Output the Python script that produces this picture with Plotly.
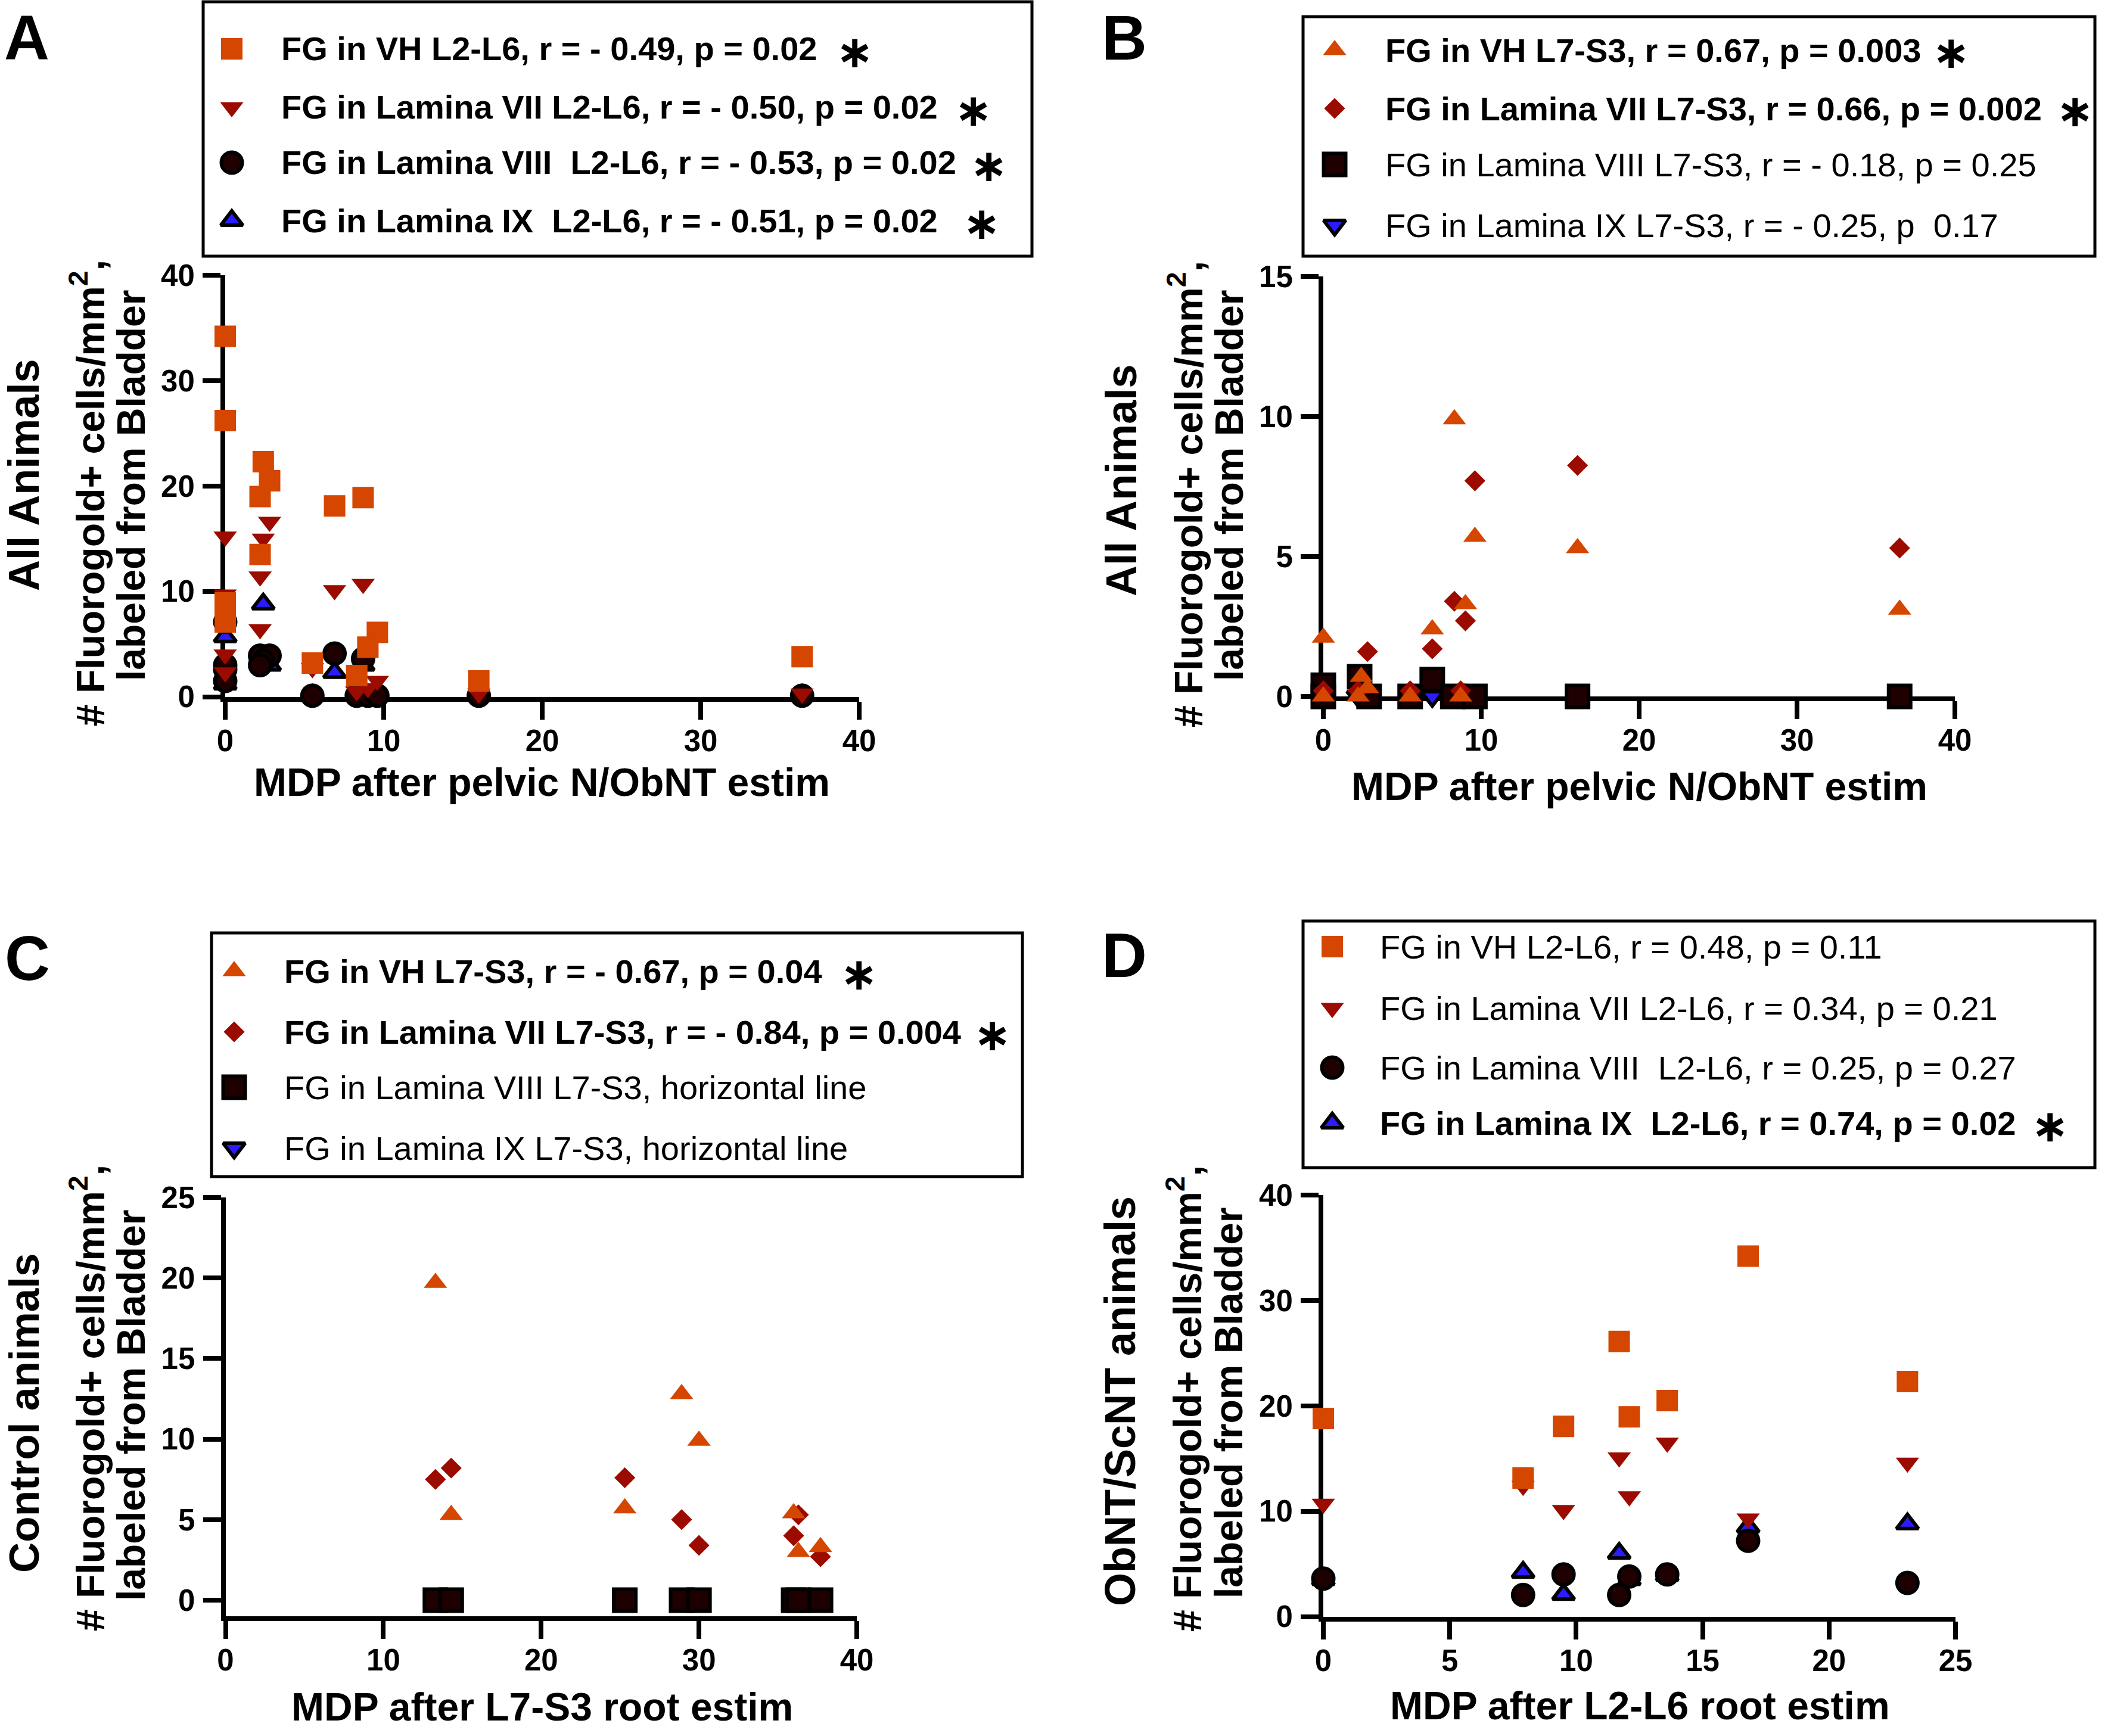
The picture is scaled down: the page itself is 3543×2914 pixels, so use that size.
import plotly.graph_objects as go

W, H = 3543, 2914

# ---------------- DATA ----------------
# Panel A : All animals, L2-L6, x = MDP after pelvic N/ObNT estim
A_VH_X = [0, 0, 2.4, 2.8, 2.2, 2.2, 6.9, 8.7, 0, 0, 5.5, 9.6, 9.0, 8.3, 16.0, 36.4]
A_VH_Y = [34.2, 26.2, 22.3, 20.5, 19.0, 13.5, 18.1, 18.9, 8.9, 7.1, 3.2, 6.1, 4.7, 2.0, 1.5, 3.8]
A_VII_X = [0, 2.8, 2.4, 2.2, 2.2, 6.9, 8.7, 0, 0, 0, 5.5, 9.6, 9.0, 16.0, 36.4, 8.3]
A_VII_Y = [15.2, 16.6, 15.0, 11.4, 6.4, 10.1, 10.7, 9.7, 4.0, 2.3, 2.7, 1.5, 0.8, 0.3, 0.3, 0.5]
A_VIII_X = [0, 0, 0, 2.2, 2.8, 2.4, 6.9, 8.7, 5.5, 8.3, 9.0, 9.6, 16.0, 36.4, 0, 2.2]
A_VIII_Y = [7.1, 2.6, 1.5, 3.9, 3.9, 3.4, 4.1, 3.6, 0.1, 0.1, 0.1, 0.1, 0.1, 0.1, 3.0, 3.0]
A_IX_X = [0, 2.4, 6.9, 0, 2.8, 5.5, 8.3, 9.0, 9.6, 16.0, 36.4, 8.7]
A_IX_Y = [5.7, 8.8, 2.3, 1.2, 3.0, 0.1, 0.1, 0.1, 0.1, 0.1, 0.1, 3.0]

# Panel B : All animals, L7-S3, x = MDP after pelvic N/ObNT estim
B_VH_X = [8.3, 9.6, 16.1, 36.5, 9.0, 6.9, 0, 2.4, 2.8, 0, 2.2, 5.5, 8.7]
B_VH_Y = [9.9, 5.7, 5.3, 3.1, 3.3, 2.4, 2.1, 0.7, 0.3, 0.0, 0.0, 0.0, 0.0]
B_VII_X = [16.1, 9.6, 36.5, 8.3, 9.0, 6.9, 2.8, 0, 2.2, 5.5, 8.7]
B_VII_Y = [8.25, 7.7, 5.3, 3.4, 2.7, 1.7, 1.6, 0.2, 0.2, 0.2, 0.2]
B_VIII_X = [0, 0, 2.3, 2.9, 6.9, 5.5, 8.2, 9.6, 16.1, 36.5]
B_VIII_Y = [0.4, 0.0, 0.7, 0.0, 0.6, 0.0, 0.0, 0.0, 0.0, 0.0]
B_IX_X = [6.9, 0, 2.2, 5.5, 8.7, 9.6, 16.1, 36.5]
B_IX_Y = [0.0, 0.0, 0.0, 0.0, 0.0, 0.0, 0.0, 0.0]

# Panel C : Control animals, L7-S3, x = MDP after L7-S3 root estim
C_X = [13.3, 14.3, 25.3, 28.9, 30.0, 36.0, 36.3, 37.7]
C_VH_Y = [19.7, 5.3, 5.7, 12.8, 9.9, 5.4, 3.0, 3.3]
C_VII_Y = [7.5, 8.2, 7.6, 5.0, 3.4, 4.0, 5.3, 2.7]
C_VIII_Y = [0, 0, 0, 0, 0, 0, 0, 0]
C_IX_Y = [0, 0, 0, 0, 0, 0, 0, 0]

# Panel D : ObNT/ScNT animals, L2-L6, x = MDP after L2-L6 root estim
D_X = [0, 7.9, 9.5, 11.7, 12.1, 13.6, 16.8, 23.1]
D_VH_Y = [18.8, 13.15, 18.05, 26.1, 18.95, 20.5, 34.2, 22.3]
D_VII_Y = [10.7, 12.4, 10.1, 15.1, 11.4, 16.5, 9.3, 14.6]
D_VIII_Y = [3.6, 2.05, 4.0, 2.05, 3.8, 4.0, 7.2, 3.2]
D_IX_Y = [3.5, 4.2, 2.1, 6.0, 3.5, 3.9, 8.5, 8.8]

# Legend texts (text, bold, asterisk)
A_LEG = [("FG in VH L2-L6, r = - 0.49, p = 0.02", True, True),
         ("FG in Lamina VII L2-L6, r = - 0.50, p = 0.02", True, True),
         ("FG in Lamina VIII\u00a0\u00a0L2-L6, r = - 0.53, p = 0.02", True, True),
         ("FG in Lamina IX\u00a0\u00a0L2-L6, r = - 0.51, p = 0.02", True, True)]
B_LEG = [("FG in VH L7-S3, r = 0.67, p = 0.003", True, True),
         ("FG in Lamina VII L7-S3, r = 0.66, p = 0.002", True, True),
         ("FG in Lamina VIII L7-S3, r = - 0.18, p = 0.25", False, False),
         ("FG in Lamina IX L7-S3, r = - 0.25, p\u00a0\u00a00.17", False, False)]
C_LEG = [("FG in VH L7-S3, r = - 0.67, p = 0.04", True, True),
         ("FG in Lamina VII L7-S3, r = - 0.84, p = 0.004", True, True),
         ("FG in Lamina VIII L7-S3, horizontal line", False, False),
         ("FG in Lamina IX L7-S3, horizontal line", False, False)]
D_LEG = [("FG in VH L2-L6, r = 0.48, p = 0.11", False, False),
         ("FG in Lamina VII L2-L6, r = 0.34, p = 0.21", False, False),
         ("FG in Lamina VIII\u00a0\u00a0L2-L6, r = 0.25, p = 0.27", False, False),
         ("FG in Lamina IX\u00a0\u00a0L2-L6, r = 0.74, p = 0.02", True, True)]

X_TITLES = ["MDP after pelvic N/ObNT estim", "MDP after pelvic N/ObNT estim",
            "MDP after L7-S3 root estim", "MDP after L2-L6 root estim"]
Y_TITLES1 = ["All Animals", "All Animals", "Control animals", "ObNT/ScNT animals"]
Y_TITLE2 = "# Fluorogold+ cells/mm<sup>2</sup>,"
Y_TITLE3 = "labeled from Bladder"
LETTERS = ["A", "B", "C", "D"]

# ---------------- STYLE ----------------
FONT = "Liberation Sans, Arial, sans-serif"
STAR_FONT = "DejaVu Sans, sans-serif"
ORANGE = "#D54600"
DARKRED = "#9B0B00"
DARKFILL = "#1E0000"
BLUE = "#2B1BFF"

STY = {
    'vh_sq': dict(symbol='square', size=36, color=ORANGE, line=dict(width=0)),
    'vii_td': dict(symbol='triangle-down', size=34, color=DARKRED, line=dict(width=0)),
    'viii_c': dict(symbol='circle', size=35, color=DARKFILL, line=dict(width=6, color='black')),
    'ix_tu': dict(symbol='triangle-up', size=32, color=BLUE, line=dict(width=6, color='black')),
    'vh_tu': dict(symbol='triangle-up', size=34, color=ORANGE, line=dict(width=0)),
    'vii_d': dict(symbol='diamond', size=27, color=DARKRED, line=dict(width=0)),
    'viii_s': dict(symbol='square', size=37, color=DARKFILL, line=dict(width=6, color='black')),
    'ix_td': dict(symbol='triangle-down', size=32, color=BLUE, line=dict(width=6, color='black')),
}


def px(x):
    return x / W


def py(y):
    return 1 - y / H


fig = go.Figure()


def add(xs, ys, style, ax):
    fig.add_trace(go.Scatter(x=xs, y=ys, mode='markers', marker=STY[style],
                             cliponaxis=False, showlegend=False,
                             xaxis='x' + ax, yaxis='y' + ax))


# draw order bottom -> top : IX, VIII, VII, VH
add(A_IX_X, A_IX_Y, 'ix_tu', '')
add(A_VIII_X, A_VIII_Y, 'viii_c', '')
add(A_VII_X, A_VII_Y, 'vii_td', '')
add(A_VH_X, A_VH_Y, 'vh_sq', '')

add(B_IX_X, B_IX_Y, 'ix_td', '2')
add(B_VIII_X, B_VIII_Y, 'viii_s', '2')
add(B_VII_X, B_VII_Y, 'vii_d', '2')
add(B_VH_X, B_VH_Y, 'vh_tu', '2')

add(C_X, C_IX_Y, 'ix_td', '3')
add(C_X, C_VIII_Y, 'viii_s', '3')
add(C_X, C_VII_Y, 'vii_d', '3')
add(C_X, C_VH_Y, 'vh_tu', '3')

add(D_X, D_IX_Y, 'ix_tu', '4')
add(D_X, D_VIII_Y, 'viii_c', '4')
add(D_X, D_VII_Y, 'vii_td', '4')
add(D_X, D_VH_Y, 'vh_sq', '4')

# panel geometry (pixels)
PANELS = [
    dict(x0=378, x1=1442, yt=462, yb=1169.5, xr=[0, 40], yr=[0, 40], xd=10, yd=10),
    dict(x0=2221, x1=3281, yt=464, yb=1169, xr=[0, 40], yr=[0, 15], xd=10, yd=5),
    dict(x0=378.5, x1=1438, yt=2010, yb=2712.5, xr=[0, 40], yr=[-0.98, 25], xd=10, yd=5),
    dict(x0=2221, x1=3282, yt=2006, yb=2713.5, xr=[0, 25], yr=[0, 40], xd=5, yd=10),
]

axcommon = dict(showline=True, linewidth=8, linecolor='black', ticks='outside',
                ticklen=30, tickwidth=8, tickcolor='black', showgrid=False,
                zeroline=False, layer='below traces', automargin=False,
                tickfont=dict(family=FONT, size=51, color='black', weight='bold'))

layout = dict(template='none', width=W, height=H,
              margin=dict(l=0, r=0, t=0, b=0, pad=0, autoexpand=False),
              paper_bgcolor='white', plot_bgcolor='rgba(0,0,0,0)',
              font=dict(family=FONT, color='black'), showlegend=False)

for i, p in enumerate(PANELS):
    sfx = '' if i == 0 else str(i + 1)
    layout['xaxis' + sfx] = dict(axcommon, domain=[px(p['x0']), px(p['x1'])],
                                 range=p['xr'], dtick=p['xd'], tick0=0,
                                 anchor='y' + sfx, ticklabelstandoff=-8)
    layout['yaxis' + sfx] = dict(axcommon, domain=[py(p['yb']), py(p['yt'])],
                                 range=p['yr'], dtick=p['yd'], tick0=0,
                                 anchor='x' + sfx, ticklabelstandoff=3)

# overlay pixel axis for legend symbols
layout['xaxis5'] = dict(domain=[0, 1], range=[0, W], visible=False, anchor='y5',
                        automargin=False)
layout['yaxis5'] = dict(domain=[0, 1], range=[H, 0], visible=False, anchor='x5',
                        automargin=False)

annotations = []
shapes = []


def ann(text, x, y, size, bold=True, angle=0, xanchor='center', yanchor='middle',
        family=FONT):
    annotations.append(dict(text=text, x=px(x), y=py(y), xref='paper', yref='paper',
                            showarrow=False, textangle=angle, xanchor=xanchor,
                            yanchor=yanchor,
                            font=dict(family=family, size=size, color='black',
                                      weight='bold' if bold else 'normal')))


# axis titles
XT_POS = [(910, 1313), (2751, 1320), (910, 2865), (2752, 2863)]
Y1_POS = [(40, 798), (1882, 806), (40, 2372), (1880, 2352)]
Y2_POS = [(147, 828), (1990, 830), (147, 2347), (1988, 2347)]
Y3_POS = [(220, 815), (2063, 815), (220, 2359), (2062, 2355)]
Y1_SIZE = [72, 72, 71, 72]
for i in range(4):
    ann(X_TITLES[i], XT_POS[i][0], XT_POS[i][1], 66)
    ann(Y_TITLES1[i], Y1_POS[i][0], Y1_POS[i][1], Y1_SIZE[i], angle=-90)
    ann(Y_TITLE2, Y2_POS[i][0], Y2_POS[i][1], 66, angle=-90)
    ann(Y_TITLE3, Y3_POS[i][0], Y3_POS[i][1], 66, angle=-90)

# panel letters
LET_POS = [(45, 64), (1887, 64), (46, 1608), (1887, 1603)]
for L, (x, y) in zip(LETTERS, LET_POS):
    ann(L, x, y, 105)

# legends
LEGENDS = [
    dict(box=(341, 3, 1732, 430), entries=A_LEG, mx=389, tx=470,
         rows=[82, 180, 273, 370], sty=['vh_sq', 'vii_td', 'viii_c', 'ix_tu'],
         ast=[1435, 1634, 1660, 1648]),
    dict(box=(2187, 28, 3516, 430), entries=B_LEG, mx=2240, tx=2323,
         rows=[84, 182, 276, 378], sty=['vh_tu', 'vii_d', 'viii_s', 'ix_td'],
         ast=[3275, 3483, None, None]),
    dict(box=(355, 1566, 1716, 1975), entries=C_LEG, mx=393, tx=475,
         rows=[1630, 1732, 1825, 1927], sty=['vh_tu', 'vii_d', 'viii_s', 'ix_td'],
         ast=[1442, 1666, None, None]),
    dict(box=(2187, 1546, 3516, 1960), entries=D_LEG, mx=2236, tx=2314,
         rows=[1589, 1692, 1792, 1885], sty=['vh_sq', 'vii_td', 'viii_c', 'ix_tu'],
         ast=[None, None, None, 3441]),
]

for lg in LEGENDS:
    x0, y0, x1, y1 = lg['box']
    shapes.append(dict(type='rect', xref='paper', yref='paper', x0=px(x0), x1=px(x1),
                       y0=py(y1), y1=py(y0), line=dict(color='black', width=5)))
    for (txt, bold, star), ry, st, ax_ in zip(lg['entries'], lg['rows'], lg['sty'], lg['ast']):
        fig.add_trace(go.Scatter(x=[lg['mx']], y=[ry], mode='markers', marker=STY[st],
                                 cliponaxis=False, showlegend=False,
                                 xaxis='x5', yaxis='y5', hoverinfo='skip'))
        ann(txt, lg['tx'], ry, 56, bold=bold, xanchor='left')
        if star and ax_ is not None:
            ann('\u2217', ax_, ry + 4, 76, bold=True, family=STAR_FONT)

layout['annotations'] = annotations
layout['shapes'] = shapes
fig.update_layout(**layout)
fig.write_html("out.html", config={'displayModeBar': False},
               post_script="document.body.style.margin='0px';document.body.style.padding='0px';")
